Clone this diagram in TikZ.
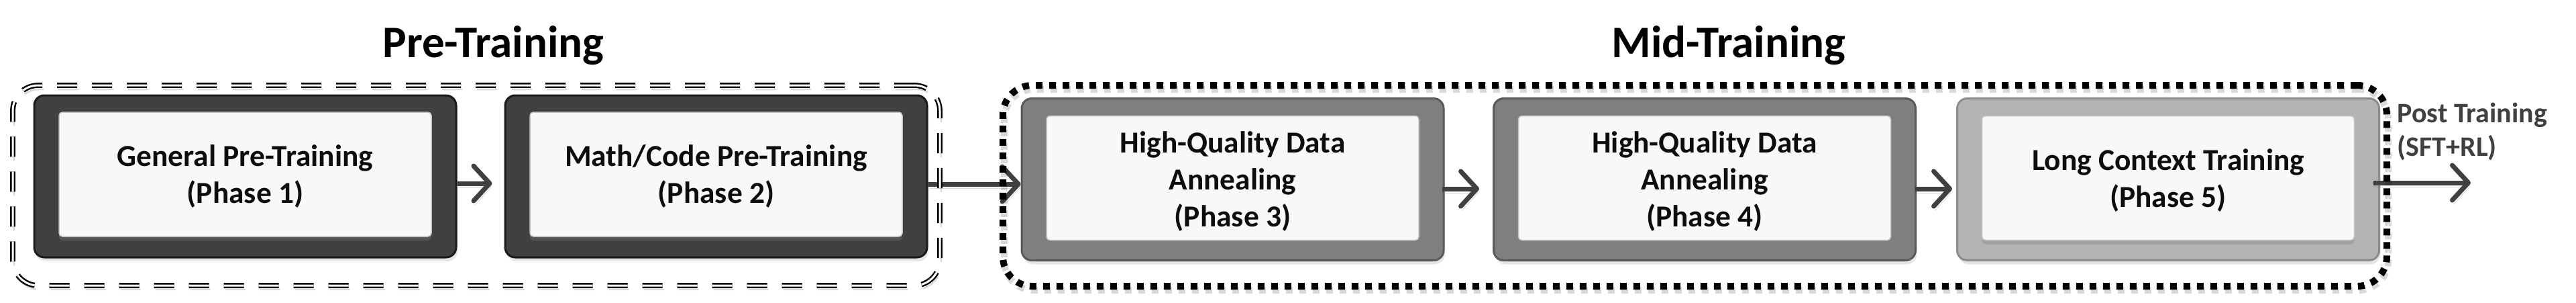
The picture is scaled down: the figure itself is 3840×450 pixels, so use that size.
\documentclass[tikz,border=0pt]{standalone}
\usepackage{fontspec}
\setmainfont{Carlito}
\usetikzlibrary{arrows.meta,shadows}
\definecolor{dkfill}{HTML}{404040}
\definecolor{dkline}{HTML}{1A1A1A}
\definecolor{mdfill}{HTML}{7F7F7F}
\definecolor{mdline}{HTML}{595959}
\definecolor{ltfill}{HTML}{B3B3B3}
\definecolor{ltline}{HTML}{8C8C8C}
\definecolor{innerfill}{HTML}{F8F8F8}
\definecolor{innerline}{HTML}{C4C4C4}
\definecolor{arrowc}{HTML}{404040}
\definecolor{txt}{HTML}{0D0D0D}
\begin{document}
\begin{tikzpicture}[x=0.5pt,y=-0.5pt,
  outerbox/.style={draw, line width=1.5pt, rounded corners=7.5pt,
    minimum width=314.5pt, minimum height=120.5pt, inner sep=0pt,
    drop shadow={shadow xshift=1pt, shadow yshift=-3pt, opacity=0.2}},
  innerbox/.style={draw=innerline, line width=0.75pt, fill=innerfill,
    rounded corners=2.5pt, minimum width=277.5pt, minimum height=92.5pt,
    inner sep=0pt,
    drop shadow={shadow xshift=0pt, shadow yshift=-3pt, opacity=0.35}},
  boxtext/.style={text=txt, font=\bfseries\fontsize{22.7}{27.5}\selectfont,
    align=center, inner sep=0pt},
  titletext/.style={text=black, font=\bfseries\fontsize{33.5}{40}\selectfont,
    inner sep=0pt, anchor=base},
  posttext/.style={text=arrowc, font=\bfseries\fontsize{21}{25}\selectfont,
    align=left, inner sep=0pt, anchor=north west},
  softshadow/.style={preaction={draw=black, opacity=0.15,
    transform canvas={xshift=1pt,yshift=-3pt}}},
  arr/.style={draw=arrowc, line width=3.5pt, softshadow,
    -{Straight Barb[length=12pt,width=26pt,round]}},
  predash/.style={draw=black, line width=1.2pt, double=white,
    double distance=1.5pt, dash pattern=on 15pt off 11pt,
    rounded corners=19pt, inner sep=0pt, softshadow},
  middot/.style={draw=black, line width=5pt, dash pattern=on 5pt off 5pt,
    rounded corners=22pt, inner sep=0pt, softshadow}
]
\useasboundingbox (0,0) rectangle (3840,450);

% titles
\node[titletext] (tpre) at (735.5,85) {Pre-Training};
\node[titletext] (tmid) at (2577,85) {Mid-Training};

% outer boxes
\node[outerbox, fill=dkfill, draw=dkline] (b1) at (365.5,262.5) {};
\node[outerbox, fill=dkfill, draw=dkline] (b2) at (1067.5,262.5) {};
\node[outerbox, fill=mdfill, draw=mdline] (b3) at (1837.5,267) {};
\node[outerbox, fill=mdfill, draw=mdline] (b4) at (2541,267) {};
\node[outerbox, fill=ltfill, draw=ltline] (b5) at (3232,267) {};

% inner boxes
\node[innerbox] (i1) at (365.5,259.5) {};
\node[innerbox] (i2) at (1067.5,259.5) {};
\node[innerbox] (i3) at (1837.5,265) {};
\node[innerbox] (i4) at (2541,265) {};
\node[innerbox] (i5) at (3232,265) {};

% texts
\node[boxtext] (l1) at ([yshift=-1.5pt]i1.center) {General Pre-Training\\(Phase 1)};
\node[boxtext] (l2) at ([yshift=-1.5pt]i2.center) {Math/Code Pre-Training\\(Phase 2)};
\node[boxtext] (l3) at ([yshift=-2.5pt]i3.center) {High-Quality Data\\Annealing\\(Phase 3)};
\node[boxtext] (l4) at ([yshift=-2.5pt]i4.center) {High-Quality Data\\Annealing\\(Phase 4)};
\node[boxtext] (l5) at ([yshift=-2pt]i5.center) {Long Context Training\\(Phase 5)};
\node[posttext] (post) at (3573,153) {Post Training\\(SFT+RL)};

% arrows
\coordinate (postend) at (3683,272);
\draw[arr, shorten >=9pt] (b1.east |- 0,273) -- (b2.west |- 0,273);
\draw[arr] (b2.east |- 0,274) -- (b3.west |- 0,274);
\draw[arr, shorten >=10pt] ([xshift=-2pt]b3.east |- 0,281) -- (b4.west |- 0,281);
\draw[arr, shorten >=3pt] ([xshift=-1pt]b4.east |- 0,281) -- (b5.west |- 0,281);
\draw[arr] ([xshift=-5pt]b5.east |- 0,272) -- (postend);

% group frames
\node[predash, minimum width=691pt, minimum height=149pt] (gpre) at (710,276) {};
\node[middot, minimum width=1031.5pt, minimum height=149.5pt] (gmid) at (2526.5,276.5) {};
\end{tikzpicture}
\end{document}
